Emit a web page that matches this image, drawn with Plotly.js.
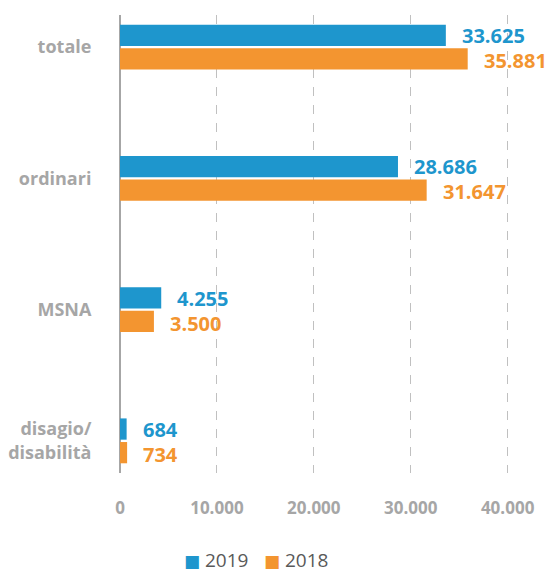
<!DOCTYPE html>
<html><head><meta charset="utf-8">
<script src="https://cdn.plot.ly/plotly-3.0.1.min.js"></script>
<style>html,body{margin:0;padding:0;background:#fff}</style>
</head><body>
<div id="chart" style="width:554px;height:573px"></div>
<script>
const categories = ["totale", "ordinari", "MSNA", "disagio/<br>disabilità"];
const values2019 = [33625, 28686, 4255, 684];
const values2018 = [35881, 31647, 3500, 734];
const seriesNames = ["2019", "2018"];
const xTicks = [0, 10000, 20000, 30000, 40000];
const xTickLabels = ["0", "10.000", "20.000", "30.000", "40.000"];

const blue = "#1E96CD", orange = "#F39530";
const colors = [blue, orange];
const fmt = v => v.toLocaleString("it-IT");

const traces = [
  {type:"bar", orientation:"h", name:seriesNames[0], y:categories, x:values2019, marker:{color:blue}, hoverinfo:"none"},
  {type:"bar", orientation:"h", name:seriesNames[1], y:categories, x:values2018, marker:{color:orange}, hoverinfo:"none"}
];

const annotations = [];
categories.forEach((c,i)=>{
  annotations.push({x:values2019[i], y:c, xref:"x", yref:"y", text:fmt(values2019[i]), showarrow:false,
    xanchor:"left", xshift:14, yshift:12, height:22, font:{family:"Open Sans", size:20, color:blue, weight:700}});
  annotations.push({x:values2018[i], y:c, xref:"x", yref:"y", text:fmt(values2018[i]), showarrow:false,
    xanchor:"left", xshift:14, yshift:-13, height:22, font:{family:"Open Sans", size:20, color:orange, weight:700}});
});
// legend drawn as text
const legendX = [0.152, 0.349];
seriesNames.forEach((n,i)=>{
  annotations.push({xref:"paper", yref:"paper", x:legendX[i], y:-0.19, xanchor:"left", yanchor:"middle", showarrow:false,
    text:'<span style="color:'+colors[i]+';font-size:17px;font-family:DejaVu Sans">■</span> '+n,
    font:{family:"Open Sans", size:19, color:"#595959"}});
});

const layout = {
  width:554, height:573,
  margin:{l:120, r:27, t:15, b:100},
  paper_bgcolor:"#fff", plot_bgcolor:"#fff",
  barmode:"group", bargap:0.64, bargroupgap:0.1,
  showlegend:false,
  xaxis:{range:[0,42000], tickvals:xTicks, ticktext:xTickLabels, showgrid:true, gridcolor:"#c0c0c0", griddash:"dash", gridwidth:1,
    zeroline:true, zerolinecolor:"#a6a6a6", zerolinewidth:2, showline:false,
    ticks:"outside", ticklen:20, tickcolor:"rgba(0,0,0,0)",
    tickfont:{family:"Open Sans", size:17, color:"#a6a6a6", weight:700}},
  yaxis:{type:"category", range:[3.245,-0.245], showgrid:false, zeroline:false, showline:false,
    ticks:"outside", ticklen:24, tickcolor:"rgba(0,0,0,0)",
    tickfont:{family:"Open Sans", size:18, color:"#a6a6a6", weight:700}},
  annotations:annotations
};
Plotly.newPlot("chart", traces, layout, {displayModeBar:false, staticPlot:true});
</script>
</body></html>
